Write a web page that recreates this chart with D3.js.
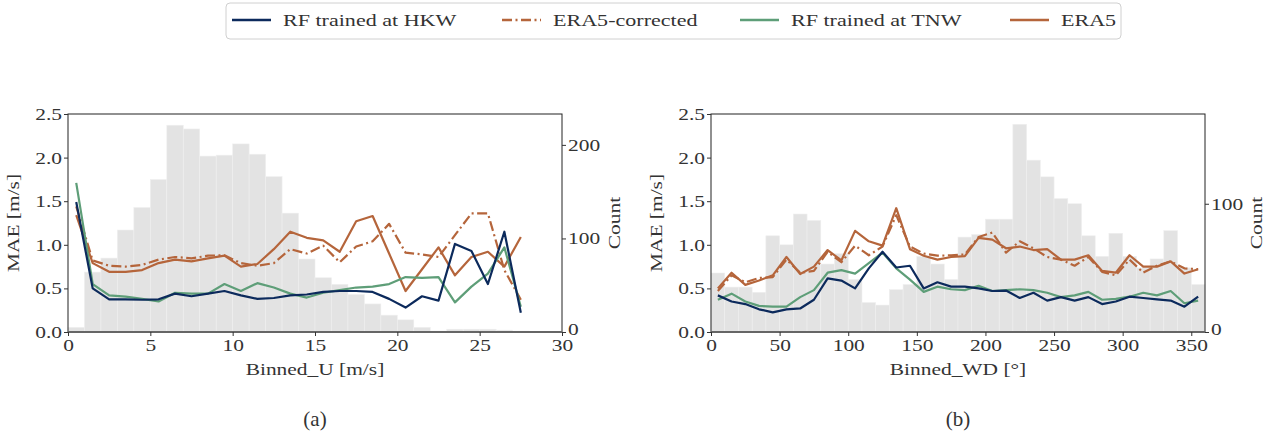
<!DOCTYPE html>
<html><head><meta charset="utf-8">
<script src="https://cdn.jsdelivr.net/npm/d3@7"></script>
<style>
body{margin:0;background:#fff;}
text{font-family:"Liberation Serif",serif;fill:#333;}
</style></head>
<body><svg id="c" width="1272" height="435"></svg>
<script>
// ---------- data ----------
const seriesNames = ["RF trained at HKW","ERA5-corrected","RF trained at TNW","ERA5"];

// panel (a): wind speed bins
const uCenters = d3.range(0.5, 28, 1);
const uHistCounts = [5,64,79,109,133,163,221,217,188,189,201,190,166,127,78,58,51,40,30,18,13,5,1,3,3,3,2,1];
const uHKW = [1.49,0.50,0.375,0.375,0.37,0.375,0.44,0.41,0.44,0.47,0.42,0.38,0.39,0.42,0.43,0.46,0.47,0.47,0.46,0.38,0.28,0.41,0.36,1.01,0.93,0.55,1.15,0.22];
const uTNW = [1.71,0.55,0.42,0.405,0.38,0.35,0.45,0.44,0.44,0.55,0.47,0.56,0.51,0.44,0.395,0.45,0.48,0.51,0.52,0.55,0.63,0.62,0.63,0.34,0.52,0.67,0.97,0.29];
const uERA5 = [1.34,0.79,0.69,0.69,0.71,0.79,0.83,0.81,0.845,0.875,0.75,0.78,0.95,1.15,1.08,1.05,0.92,1.27,1.33,0.90,0.47,0.72,0.97,0.65,0.86,0.92,0.75,1.09];
const uCorr = [1.44,0.82,0.76,0.75,0.77,0.83,0.86,0.845,0.875,0.88,0.79,0.76,0.79,0.95,0.90,0.99,0.80,0.98,1.04,1.24,0.91,0.89,0.86,1.11,1.36,1.36,0.71,0.37];

// panel (b): wind direction bins
const wdCenters = d3.range(5, 360, 10);
const wdHistCounts = [46,35,35,31,75,68,92,87,53,61,41,23,21,33,37,59,53,41,74,76,88,88,162,134,121,104,100,75,59,77,59,50,57,79,50,37];
const wdHKW = [0.42,0.35,0.32,0.26,0.225,0.26,0.27,0.37,0.615,0.59,0.50,0.73,0.92,0.74,0.76,0.50,0.57,0.52,0.52,0.50,0.47,0.475,0.39,0.45,0.36,0.40,0.36,0.40,0.32,0.35,0.405,0.39,0.375,0.36,0.29,0.405];
const wdTNW = [0.37,0.44,0.35,0.30,0.29,0.29,0.40,0.48,0.68,0.71,0.67,0.79,0.91,0.73,0.60,0.46,0.52,0.49,0.48,0.53,0.47,0.48,0.49,0.48,0.45,0.40,0.42,0.46,0.37,0.38,0.405,0.45,0.42,0.47,0.33,0.36];
const wdERA5 = [0.50,0.68,0.54,0.59,0.65,0.86,0.665,0.75,0.94,0.82,1.16,1.04,0.99,1.42,0.95,0.875,0.83,0.86,0.87,1.08,1.06,0.96,0.98,0.94,0.95,0.83,0.83,0.88,0.70,0.68,0.88,0.75,0.75,0.81,0.67,0.72];
const wdCorr = [0.47,0.65,0.57,0.62,0.63,0.83,0.68,0.70,0.92,0.80,0.99,0.88,0.98,1.34,0.98,0.90,0.875,0.88,0.89,1.09,1.14,0.91,1.04,0.96,0.86,0.83,0.76,0.86,0.69,0.65,0.83,0.68,0.76,0.81,0.73,0.72];

const maeTicks = [0,0.5,1.0,1.5,2.0,2.5];
const uTicks = [0,5,10,15,20,25,30];
const wdTicks = [0,50,100,150,200,250,300,350];

// ---------- styles ----------
const colors = {"RF trained at HKW":"#0c2a5c","ERA5-corrected":"#b5653b","RF trained at TNW":"#5e9e78","ERA5":"#b5653b"};
const dashes = {"RF trained at HKW":null,"ERA5-corrected":"10,3.5,2,3.5","RF trained at TNW":null,"ERA5":null};
const STRETCH = 1.26;

const svg = d3.select("#c");

function widen(sel, k){
  sel.each(function(){
    const w = this.getComputedTextLength();
    if (w > 0) { this.setAttribute("textLength", (w*k).toFixed(1)); this.setAttribute("lengthAdjust","spacingAndGlyphs"); }
  });
}

function panel(opt){
  const g = svg.append("g");
  const x = d3.scaleLinear().domain(opt.xDomain).range([opt.x0, opt.x1]);
  const y = d3.scaleLinear().domain([0,2.5]).range([opt.y1, opt.y0]);
  const yc = d3.scaleLinear().domain([0,opt.countMax]).range([opt.y1, opt.y0]);

  // histogram
  g.selectAll("rect.h").data(opt.counts).enter().append("rect")
    .attr("x",(d,i)=>x(opt.binStart + i*opt.binW))
    .attr("width",(d,i)=>x(opt.binStart+(i+1)*opt.binW)-x(opt.binStart+i*opt.binW))
    .attr("y",d=>yc(d)).attr("height",d=>opt.y1-yc(d))
    .attr("fill","#e3e3e3").attr("stroke","#efefef").attr("stroke-width",0.6);

  const line = d3.line().x(d=>x(d[0])).y(d=>y(d[1]));
  const order = [["ERA5",opt.era5],["ERA5-corrected",opt.corr],["RF trained at TNW",opt.tnw],["RF trained at HKW",opt.hkw]];
  order.forEach(([name,vals])=>{
    g.append("path").datum(opt.centers.map((c,i)=>[c,vals[i]]))
      .attr("d",line).attr("fill","none").attr("stroke",colors[name])
      .attr("stroke-width",2.2).attr("stroke-linejoin","round")
      .attr("stroke-dasharray",dashes[name]);
  });

  // frame
  g.append("rect").attr("x",opt.x0).attr("y",opt.y0).attr("width",opt.x1-opt.x0).attr("height",opt.y1-opt.y0)
    .attr("fill","none").attr("stroke","#222").attr("stroke-width",1);
  g.append("line").attr("x1",opt.x0).attr("x2",opt.x1).attr("y1",opt.y1).attr("y2",opt.y1)
    .attr("stroke","#666").attr("stroke-width",2);

  // axes
  const ax = g.append("g").attr("transform",`translate(0,${opt.y1})`)
    .call(d3.axisBottom(x).tickValues(opt.xTicks).tickSize(4).tickPadding(3).tickFormat(d3.format("d")));
  const ayl = g.append("g").attr("transform",`translate(${opt.x0},0)`)
    .call(d3.axisLeft(y).tickValues(maeTicks).tickSize(4).tickPadding(2).tickFormat(d3.format(".1f")));
  const ayr = g.append("g").attr("transform",`translate(${opt.x1},0)`)
    .call(d3.axisRight(yc).tickValues(opt.countTicks).tickSize(4).tickPadding(2).tickFormat(d3.format("d")));
  [ax,ayl,ayr].forEach(a=>{
    a.select(".domain").remove();
    a.selectAll(".tick line").attr("stroke","#333");
    a.selectAll("text").style("font-family","Liberation Serif").style("font-size","17px").attr("fill","#333");
    widen(a.selectAll("text"), STRETCH);
  });
  ayr.selectAll(".tick text").filter(d=>d===0).attr("dy","0.15em");

  widen(g.append("text").attr("x",(opt.x0+opt.x1)/2).attr("y",opt.y1+43).attr("text-anchor","middle")
    .style("font-size","17px").text(opt.xTitle), STRETCH);
  widen(g.append("text").attr("transform",`translate(${opt.x0-49},${(opt.y0+opt.y1)/2}) rotate(-90)`)
    .attr("text-anchor","middle").style("font-size","17px").text("MAE [m/s]"), STRETCH);
  widen(g.append("text").attr("transform",`translate(${opt.x1+opt.countTitleOff},${(opt.y0+opt.y1)/2}) rotate(-90)`)
    .attr("text-anchor","middle").style("font-size","17px").text("Count"), STRETCH);
  g.append("text").attr("x",(opt.x0+opt.x1)/2).attr("y",426).attr("text-anchor","middle")
    .style("font-family","Liberation Serif").style("font-size","21px").attr("fill","#111").text(opt.caption);
}

panel({x0:68,x1:562,y0:114,y1:332,xDomain:[0,30],xTicks:uTicks,countMax:233,countTicks:[0,100,200],
  counts:uHistCounts,binStart:0,binW:1,centers:uCenters,hkw:uHKW,tnw:uTNW,era5:uERA5,corr:uCorr,
  xTitle:"Binned_U [m/s]",caption:"(a)",countTitleOff:58});
panel({x0:711,x1:1205,y0:114,y1:332,xDomain:[0,360],xTicks:wdTicks,countMax:170,countTicks:[0,100],
  counts:wdHistCounts,binStart:0,binW:10,centers:wdCenters,hkw:wdHKW,tnw:wdTNW,era5:wdERA5,corr:wdCorr,
  xTitle:"Binned_WD [°]",caption:"(b)",countTitleOff:57});

// legend
const lg = svg.append("g");
lg.append("rect").attr("x",226).attr("y",3).attr("width",895).attr("height",36).attr("rx",4)
  .attr("fill","#fff").attr("stroke","#d0d0d0").attr("stroke-width",1);
const legX = [232,502,740,1010];
seriesNames.forEach((n,i)=>{
  lg.append("line").attr("x1",legX[i]).attr("x2",legX[i]+39).attr("y1",20).attr("y2",20)
    .attr("stroke",colors[n]).attr("stroke-width",2.4).attr("stroke-dasharray",dashes[n]);
  widen(lg.append("text").attr("x",legX[i]+51).attr("y",26).style("font-size","17.5px").text(n), STRETCH);
});
</script></body></html>
